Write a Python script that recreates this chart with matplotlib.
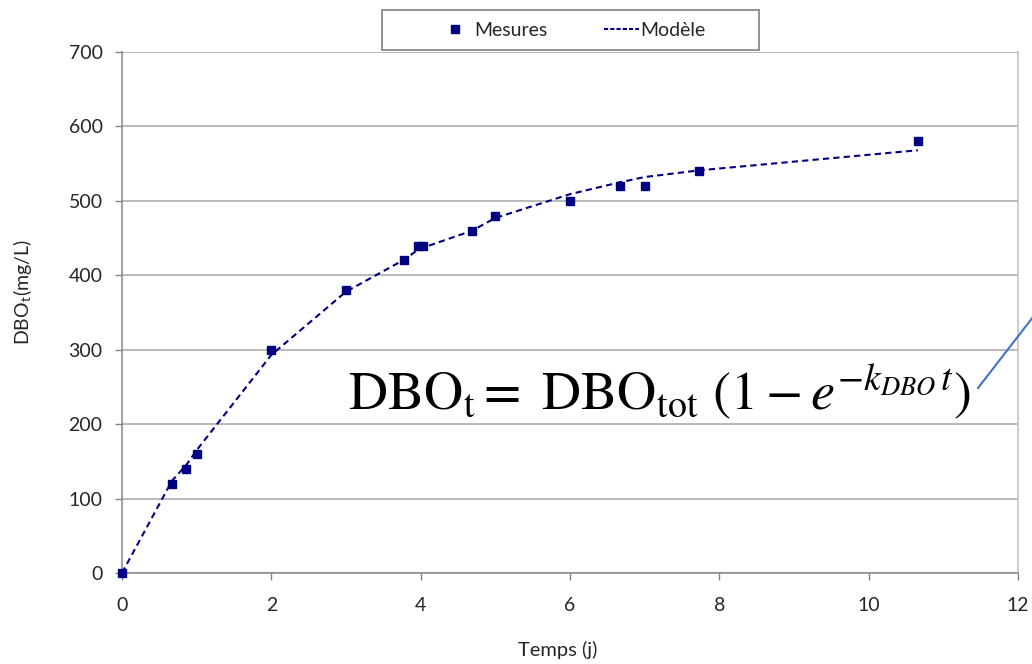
import matplotlib
matplotlib.use("Agg")
import matplotlib.pyplot as plt
from matplotlib.lines import Line2D
from matplotlib.patches import Rectangle

plt.rcParams['font.family'] = ['Lato', 'DejaVu Sans']
plt.rcParams['mathtext.fontset'] = 'stix'

# Data
temps = [0, 0.67, 0.86, 1.0, 2.0, 3.0, 3.78, 3.96, 4.03, 4.69, 5.0, 6.0, 6.67, 7.0, 7.73, 10.66]
mesures = [0, 120, 140, 160, 300, 380, 420, 440, 440, 460, 480, 500, 520, 520, 540, 580]
modele = [0, 124, 145, 165, 293, 378, 421, 434, 437, 460, 477, 509, 525, 532, 541, 568]
xticks = [0, 2, 4, 6, 8, 10, 12]
yticks = [0, 100, 200, 300, 400, 500, 600, 700]

navy = '#000080'
grid_c = '#a6a6a6'
spine_c = '#868686'
text_c = '#262626'

W, H = 1032, 664
fig = plt.figure(figsize=(W/100, H/100), dpi=100)
ax = fig.add_axes([122/W, 1 - 573/H, (1018 - 122)/W, (573 - 52)/H])

ax.plot(temps, modele, linestyle=(0, (3, 2)), color=navy, linewidth=1.5, zorder=3)
ax.plot(temps, mesures, linestyle='none', marker='s', markersize=6.2,
        color=navy, zorder=4, clip_on=False)

ax.set_xlim(0, 12)
ax.set_ylim(0, 700)
ax.set_xticks(xticks)
ax.set_yticks(yticks)
ax.tick_params(axis='both', labelsize=14, labelcolor=text_c, color=spine_c,
               length=5, width=1, direction='out')
ax.tick_params(axis='x', pad=12)
ax.tick_params(axis='y', pad=9)
ax.grid(axis='y', color=grid_c, linewidth=1.1)
ax.set_axisbelow(True)
for s in ['left', 'bottom']:
    ax.spines[s].set_color(spine_c)
    ax.spines[s].set_linewidth(1.1)
ax.spines['top'].set_visible(False)
ax.spines['right'].set_color('#bfbfbf')
ax.spines['right'].set_linewidth(1.1)

fig.text(558/W, 1 - 650/H, 'Temps (j)', fontsize=14.5, color=text_c,
         ha='center', va='center')
fig.text(22/W, 1 - 292/H, r'DBO$_{\mathregular{t}}$(mg/L)', fontsize=14,
         color=text_c, ha='center', va='center', rotation=90)

# Legend
h1 = Line2D([], [], linestyle='none', marker='s', markersize=6, color=navy)
h2 = Line2D([], [], linestyle=(0, (2, 1)), color=navy, linewidth=1.5)
leg = fig.legend([h1, h2], ['Mesures', 'Modèle'], ncol=2,
                 loc='center left', bbox_to_anchor=(437/W, 1 - 30/H),
                 fontsize=14, frameon=False, handlelength=1.8,
                 handletextpad=0.1, columnspacing=2.9, borderpad=0,
                 borderaxespad=0, labelcolor=text_c)
fig.add_artist(Rectangle((382/W, 1 - 50/H), 377/W, 40/H,
                         transform=fig.transFigure, facecolor='none',
                         edgecolor='#7f7f7f', linewidth=1.2))

# Equation annotation
fig.text(348/W, 1 - 410/H,
         r'$\mathrm{DBO_t} =\ \mathrm{DBO_{tot}}\ (1 - e^{-k_{DBO}\,t})$',
         fontsize=39, color='black', ha='left', va='baseline')
fig.add_artist(Line2D([978/W, 1040/W], [1 - 388/H, 1 - 308/H],
                      transform=fig.transFigure, color='#4472c4', linewidth=1.5))

fig.savefig('out.png', dpi=100, facecolor='white')
